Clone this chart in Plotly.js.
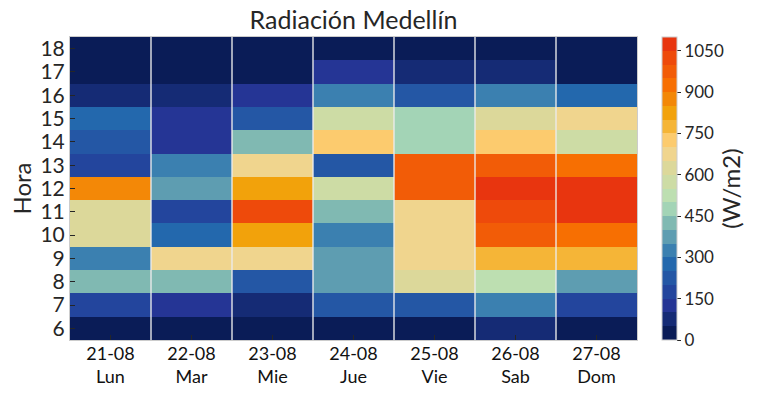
<!DOCTYPE html>
<html>
<head>
<meta charset="utf-8">
<script src="https://cdn.plot.ly/plotly-3.0.1.min.js"></script>
<style>html,body{margin:0;padding:0;background:#fff;}#chart{width:764px;height:395px;}</style>
</head>
<body>
<div id="chart"></div>
<script>
// Data
const dates = ["21-08", "22-08", "23-08", "24-08", "25-08", "26-08", "27-08"];
const weekdays = ["Lun", "Mar", "Mie", "Jue", "Vie", "Sab", "Dom"];
const hours = [6, 7, 8, 9, 10, 11, 12, 13, 14, 15, 16, 17, 18];
// Radiation (W/m2) per day, hours 6..18
const radLun = [25, 175, 425, 325, 625, 625, 875, 175, 225, 275, 75, 25, 25];
const radMar = [25, 125, 425, 675, 275, 175, 375, 325, 125, 125, 75, 25, 25];
const radMie = [25, 75, 225, 675, 825, 1025, 825, 675, 425, 225, 125, 25, 25];
const radJue = [25, 225, 375, 375, 325, 425, 575, 225, 725, 575, 325, 125, 25];
const radVie = [25, 225, 625, 675, 675, 675, 975, 975, 475, 475, 225, 75, 25];
const radSab = [75, 325, 525, 775, 975, 1025, 1075, 975, 725, 625, 325, 75, 25];
const radDom = [25, 175, 375, 775, 925, 1075, 1075, 925, 575, 675, 275, 25, 25];
const cbTicks = [0, 150, 300, 450, 600, 750, 900, 1050];
// Discrete palette, one colour per 50 W/m2 bin (0..1100)
const binColors = ["#0a1c57", "#152b75", "#253595", "#23459d", "#2457a5", "#2368ad",
  "#3b80b0", "#5e9db1", "#80b9b2", "#a3d4b6", "#bddfb1", "#cddca5", "#dcd89a",
  "#f0d58e", "#fccb6e", "#f5b537", "#f2a20b", "#f38807", "#f76f02", "#f25c07",
  "#ee4a0b", "#e8350f"];

const series = [radLun, radMar, radMie, radJue, radVie, radSab, radDom];
// z[row=hour][col=day]
const z = hours.map((h, i) => series.map(s => s[i]));
const xIdx = dates.map((d, i) => i);

const n = binColors.length;
const colorscale = [];
binColors.forEach((c, k) => {
  colorscale.push([k / n, c]);
  colorscale.push([(k + 1) / n, c]);
});

const font = "Lato, 'Open Sans', sans-serif";
const trace = {
  type: "heatmap",
  x: xIdx,
  y: hours,
  z: z,
  zmin: 0,
  zmax: 1100,
  colorscale: colorscale,
  colorbar: {
    x: 1.044, xanchor: "left", xref: "paper",
    y: 0.5, yanchor: "middle", len: 1, lenmode: "fraction",
    thickness: 15, xpad: 0, ypad: 0,
    outlinecolor: "#cccccc", outlinewidth: 1,
    tickvals: cbTicks,
    ticks: "outside", ticklen: 4, tickcolor: "#262626",
    tickfont: {family: font, size: 17, color: "#262626"},
    title: {text: "(W/m2)", side: "right", font: {family: font, size: 24, color: "#262626"}}
  }
};

const shapes = xIdx.slice(0, -1).map(i => ({
  type: "line", xref: "x", yref: "paper",
  x0: i + 0.5, x1: i + 0.5, y0: 0, y1: 1,
  line: {color: "rgba(235,235,235,0.9)", width: 1.5},
  layer: "above"
}));

const layout = {
  width: 764, height: 395,
  margin: {l: 70, r: 127, t: 37, b: 55, autoexpand: false},
  paper_bgcolor: "#ffffff", plot_bgcolor: "#ffffff",
  font: {family: font, color: "#262626"},
  title: {text: "Radiación Medellín", x: 0.5, xref: "paper", xanchor: "center",
    y: 0.95, yref: "container", yanchor: "middle",
    font: {family: font, size: 25, color: "#262626"}},
  xaxis: {
    range: [-0.5, dates.length - 0.5],
    tickvals: xIdx,
    ticktext: dates.map((d, i) => d + "<br>" + weekdays[i]),
    ticks: "inside", ticklen: 5, tickcolor: "#262626",
    ticklabelstandoff: -3,
    tickfont: {family: font, size: 18, color: "#111"},
    showgrid: false, zeroline: false,
    showline: true, linecolor: "#cccccc", linewidth: 1, mirror: true,
    automargin: false
  },
  yaxis: {
    range: [hours[0] - 0.5, hours[hours.length - 1] + 0.5],
    tickvals: hours,
    ticks: "inside", ticklen: 5, tickcolor: "#262626",
    tickfont: {family: font, size: 21, color: "#262626"},
    showgrid: false, zeroline: false,
    showline: true, linecolor: "#cccccc", linewidth: 1, mirror: true,
    automargin: false,
    title: {text: "Hora", standoff: 2, font: {family: font, size: 24, color: "#262626"}}
  },
  shapes: shapes
};

Plotly.newPlot("chart", [trace], layout, {displayModeBar: false, staticPlot: true});
</script>
</body>
</html>
